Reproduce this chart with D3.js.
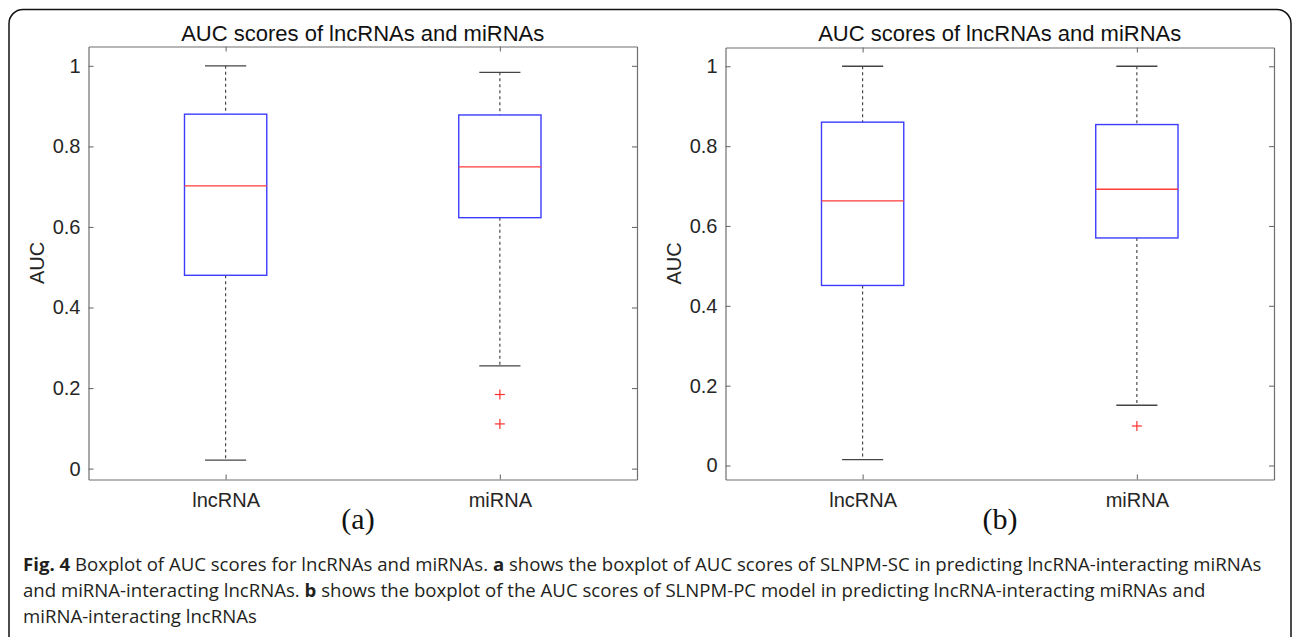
<!DOCTYPE html>
<html lang="en">
<head>
  <meta charset="utf-8">
  <title>Boxplot of AUC scores</title>
  <script type="text/javascript" src="https://d3js.org/d3.v7.min.js"></script>
  <style type="text/css">
    body { margin: 0; background: #fff; }
    .tick text { font-family: "Liberation Sans", Arial, sans-serif; font-size: 20px; fill: #262626; }
    .tick line { stroke: #6e6e6e; stroke-width: 1.1; }
    .domain { stroke: #6e6e6e; stroke-width: 1.2; }
  </style>
</head>
<body>
  <script type="text/javascript">

    // categories and tick labels
    const categories = ['lncRNA', 'miRNA']
    const yTickValues = [0, 0.2, 0.4, 0.6, 0.8, 1]

    // panel (a): SLNPM-SC
    const lowerA = [0.021, 0.255]
    const q1A = [0.480, 0.623]
    const medianA = [0.702, 0.749]
    const q3A = [0.880, 0.878]
    const upperA = [1.0, 0.984]
    const outliersA = [[], [0.184, 0.111]]

    // panel (b): SLNPM-PC
    const lowerB = [0.015, 0.151]
    const q1B = [0.451, 0.570]
    const medianB = [0.663, 0.692]
    const q3B = [0.860, 0.854]
    const upperB = [1.0, 1.0]
    const outliersB = [[], [0.099]]

    const title = 'AUC scores of lncRNAs and miRNAs'

    const width = 1292, height = 637

    const svg = d3.select('body').append('svg')
      .attr('width', width)
      .attr('height', height)

    svg.append('rect').attr('width', width).attr('height', height).attr('fill', '#fff')

    // rounded frame round the whole figure
    svg.append('rect')
      .attr('x', 9).attr('y', 9.5)
      .attr('width', 1282).attr('height', 640)
      .attr('rx', 14).attr('ry', 14)
      .attr('fill', 'none')
      .attr('stroke', '#111')
      .attr('stroke-width', 1.5)

    const panels = [
      { label: '(a)', labelX: 358, left: 88.5, right: 637, top: 46.5, bottom: 479.5, yDomain: [-0.027, 1.048],
        lower: lowerA, q1: q1A, median: medianA, q3: q3A, upper: upperA, outliers: outliersA },
      { label: '(b)', labelX: 1000, left: 725.5, right: 1274, top: 47.5, bottom: 479.5, yDomain: [-0.035, 1.047],
        lower: lowerB, q1: q1B, median: medianB, q3: q3B, upper: upperB, outliers: outliersB }
    ]

    panels.forEach(p => drawBoxplot(p))

    function drawBoxplot(p) {
      const x = d3.scalePoint().domain(categories).range([p.left, p.right]).padding(0.5)
      const y = d3.scaleLinear().domain(p.yDomain).range([p.bottom, p.top])
      const boxW = x.step() * 0.3
      const capW = boxW / 2

      const g = svg.append('g')

      //axes on all four sides, ticks pointing in
      g.append('g').attr('transform', `translate(${p.left},0)`)
        .call(d3.axisLeft(y).tickValues(yTickValues).tickFormat(d3.format('~g')).tickSize(-5).tickSizeOuter(0).tickPadding(8))
      g.append('g').attr('transform', `translate(${p.right},0)`)
        .call(d3.axisRight(y).tickValues(yTickValues).tickFormat('').tickSize(-5).tickSizeOuter(0))
      g.append('g').attr('transform', `translate(0,${p.bottom})`)
        .call(d3.axisBottom(x).tickSize(-5).tickSizeOuter(0).tickPadding(13.5))
      g.append('g').attr('transform', `translate(0,${p.top})`)
        .call(d3.axisTop(x).tickFormat('').tickSize(-5).tickSizeOuter(0))

      const boxes = g.selectAll('.box')
        .data(categories.map((c, i) => ({
          cat: c, lower: p.lower[i], q1: p.q1[i], median: p.median[i],
          q3: p.q3[i], upper: p.upper[i], outliers: p.outliers[i]
        })))
        .enter().append('g')

      // whiskers, dashed
      boxes.append('line')
        .attr('x1', d => x(d.cat)).attr('x2', d => x(d.cat))
        .attr('y1', d => y(d.upper)).attr('y2', d => y(d.q3))
        .attr('stroke', '#3a3a3a').attr('stroke-width', 1.1).attr('stroke-dasharray', '3,3')
      boxes.append('line')
        .attr('x1', d => x(d.cat)).attr('x2', d => x(d.cat))
        .attr('y1', d => y(d.q1)).attr('y2', d => y(d.lower))
        .attr('stroke', '#3a3a3a').attr('stroke-width', 1.1).attr('stroke-dasharray', '3,3')

      // caps
      boxes.append('line')
        .attr('x1', d => x(d.cat) - capW / 2).attr('x2', d => x(d.cat) + capW / 2)
        .attr('y1', d => y(d.upper)).attr('y2', d => y(d.upper))
        .attr('stroke', '#444').attr('stroke-width', 1.3)
      boxes.append('line')
        .attr('x1', d => x(d.cat) - capW / 2).attr('x2', d => x(d.cat) + capW / 2)
        .attr('y1', d => y(d.lower)).attr('y2', d => y(d.lower))
        .attr('stroke', '#444').attr('stroke-width', 1.3)

      // box
      boxes.append('rect')
        .attr('x', d => x(d.cat) - boxW / 2)
        .attr('y', d => y(d.q3))
        .attr('width', boxW)
        .attr('height', d => y(d.q1) - y(d.q3))
        .attr('fill', 'none')
        .attr('stroke', '#3c3cff').attr('stroke-width', 1.4)

      // median
      boxes.append('line')
        .attr('x1', d => x(d.cat) - boxW / 2).attr('x2', d => x(d.cat) + boxW / 2)
        .attr('y1', d => y(d.median)).attr('y2', d => y(d.median))
        .attr('stroke', '#ff3a3a').attr('stroke-width', 1.3)

      // outliers as red plus signs
      boxes.each(function (d) {
        const plus = d3.select(this).selectAll('.out')
          .data(d.outliers).enter().append('g')
          .attr('transform', v => `translate(${x(d.cat)},${y(v)})`)
        plus.append('line').attr('x1', -5).attr('x2', 5).attr('y1', 0).attr('y2', 0)
          .attr('stroke', '#ff3030').attr('stroke-width', 1.2)
        plus.append('line').attr('x1', 0).attr('x2', 0).attr('y1', -5).attr('y2', 5)
          .attr('stroke', '#ff3030').attr('stroke-width', 1.2)
      })

      // title
      g.append('text')
        .attr('x', (p.left + p.right) / 2).attr('y', 40.5)
        .attr('text-anchor', 'middle')
        .style('font-family', '"Liberation Sans", Arial, sans-serif')
        .style('font-size', '22px').style('fill', '#111')
        .text(title)

      // y label
      g.append('text')
        .attr('transform', `translate(${p.left - 44.5},${(p.top + p.bottom) / 2}) rotate(-90)`)
        .attr('text-anchor', 'middle')
        .style('font-family', '"Liberation Sans", Arial, sans-serif')
        .style('font-size', '20px').style('fill', '#262626')
        .text('AUC')

      // panel letter
      g.append('text')
        .attr('x', p.labelX).attr('y', 529)
        .attr('text-anchor', 'middle')
        .style('font-family', '"Liberation Serif", "Times New Roman", serif')
        .style('font-size', '30px').style('fill', '#111')
        .text(p.label)
    }

    //caption under the figure
    const captionLines = [
      [['Fig. 4', true], [' Boxplot of AUC scores for lncRNAs and miRNAs. ', false], ['a', true],
       [' shows the boxplot of AUC scores of SLNPM-SC in predicting lncRNA-interacting miRNAs', false]],
      [['and miRNA-interacting lncRNAs. ', false], ['b', true],
       [' shows the boxplot of the AUC scores of SLNPM-PC model in predicting lncRNA-interacting miRNAs and', false]],
      [['miRNA-interacting lncRNAs', false]]
    ]

    captionLines.forEach((line, i) => {
      const t = svg.append('text')
        .attr('x', 23).attr('y', 571 + i * 26)
        .style('font-family', '"Open Sans", "Noto Sans", sans-serif')
        .style('font-size', '18.6px').style('fill', '#231f20')
      line.forEach(seg => {
        t.append('tspan').text(seg[0]).style('font-weight', seg[1] ? 700 : 400)
      })
    })

  </script>
</body>
</html>
